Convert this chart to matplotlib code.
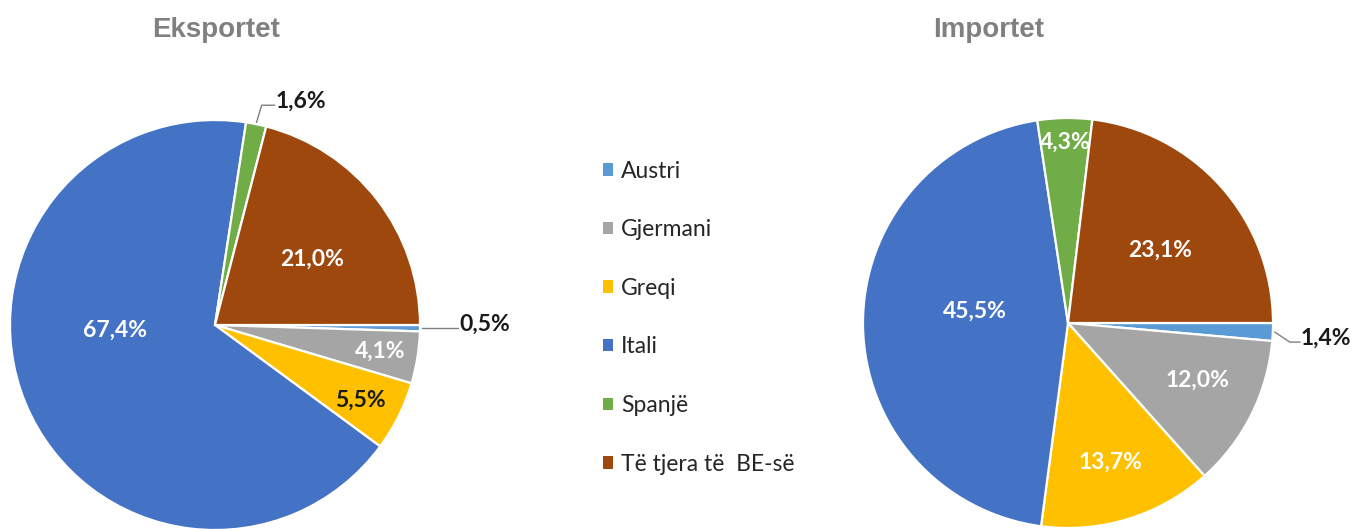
import numpy as np
import matplotlib.pyplot as plt
from matplotlib.patches import Patch

# data
countries = ["Austri", "Gjermani", "Greqi", "Itali", "Spanjë", "Të tjera të  BE-së"]
exports = [0.5, 4.1, 5.5, 67.4, 1.6, 21.0]
imports = [1.4, 12.0, 13.7, 45.5, 4.3, 23.1]
titles = ["Eksportet", "Importet"]
colors = ["#5B9BD5", "#A5A5A5", "#FFC000", "#4472C4", "#70AD47", "#9E480E"]

W, H = 1357, 529
R = 205

fig = plt.figure(figsize=(W / 100, H / 100), dpi=100)
ax = fig.add_axes([0, 0, 1, 1])

# layout: (radius fraction, angle shift, text colour) for inside labels, None for outside ones
inside_left = [None, (0.815, 0, "white"), (0.80, -1, "#1a1a1a"), (0.49, -19.5, "white"),
               None, (0.57, -3.5, "white")]
inside_right = [None, (0.69, 3, "white"), (0.71, 0, "white"), (0.46, -7.5, "white"),
                (0.88, 0, "white"), (0.57, -3.2, "white")]
# outside labels: leader offsets (elbow dx, dy, end dx, dy) in pixels
outside_left = {0: [(0, 0), (36, 0)], 4: [(5, 17), (18, 17)]}
outside_right = {0: [(15, -10), (25, -10)]}

pies = [
    (exports, (215, H - 325), inside_left, outside_left, 216),
    (imports, (1068, H - 323), inside_right, outside_right, 989),
]

def fmt(v):
    return f"{v:.1f}%".replace(".", ",")

for (vals, c, inside, outside, tx), title in zip(pies, titles):
    wedges, _ = ax.pie(vals, colors=colors, startangle=0, counterclock=False,
                       center=c, radius=R,
                       wedgeprops=dict(edgecolor="white", linewidth=1.6))
    for i, w in enumerate(wedges):
        mid = (w.theta1 + w.theta2) / 2
        if inside[i] is not None:
            r, da, col = inside[i]
            a = np.deg2rad(mid + da)
            ax.text(c[0] + r * R * np.cos(a), c[1] + r * R * np.sin(a), fmt(vals[i]),
                    ha="center", va="center", fontsize=16.5, fontweight="bold",
                    color=col, family="Lato")
        else:
            a = np.deg2rad(mid)
            sx, sy = c[0] + (R + 2) * np.cos(a), c[1] + (R + 2) * np.sin(a)
            pts = [(sx, sy)] + [(sx + dx, sy + dy) for dx, dy in outside[i]]
            ax.plot([p[0] for p in pts], [p[1] for p in pts], color="#808080", lw=1.0)
            ex, ey = pts[-1]
            ax.text(ex + 1, ey + 4, fmt(vals[i]), ha="left", va="center",
                    fontsize=16.5, fontweight="bold", color="#1a1a1a", family="Lato")
    ax.text(tx, H - 30, title, ha="center", va="center", fontsize=20,
            fontweight="bold", color="#808080", family="Liberation Sans")

ax.set_xlim(0, W)
ax.set_ylim(0, H)
ax.set_aspect("equal")
ax.axis("off")

handles = [Patch(facecolor=col) for col in colors]
leg = ax.legend(handles, countries, loc="upper left", bbox_to_anchor=(582 / W, 1 - 140 / H),
                bbox_transform=fig.transFigure, frameon=False, handlelength=0.45,
                handleheight=0.45, handletextpad=0.35, labelspacing=1.64,
                prop=dict(family="Lato", size=16.5))
for t in leg.get_texts():
    t.set_color("#262626")

fig.savefig("out.png", dpi=100)
